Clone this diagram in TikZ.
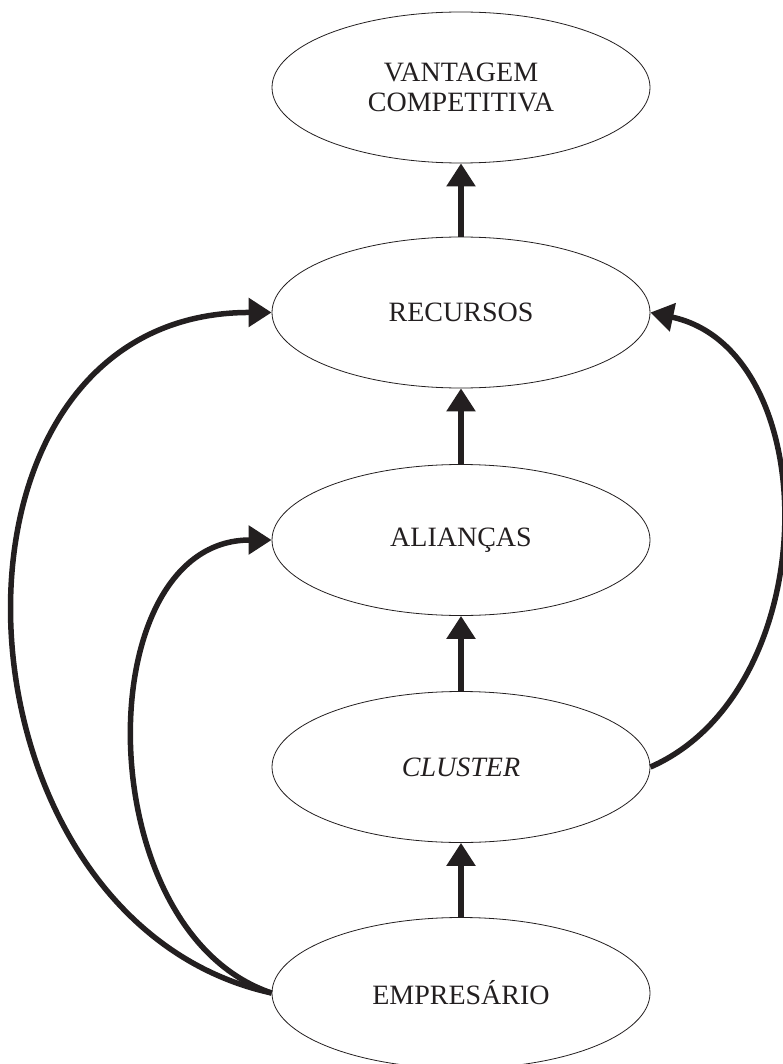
\documentclass[tikz,border=0pt]{standalone}
\usepackage{fontspec}
\setmainfont{Liberation Serif}
\usetikzlibrary{arrows.meta,shapes.geometric}
\definecolor{ink}{HTML}{231F20}
\tikzset{
  oval/.style={ellipse, draw=ink, line width=0.8pt, minimum width=378pt, minimum height=151pt,
    inner sep=0pt, align=center, text=ink, font=\fontsize{28}{30}\selectfont},
  link/.style={draw=ink, line width=5.5pt, -{Triangle[length=23pt,width=28pt]}, shorten >=0pt},
}
\begin{document}
\begin{tikzpicture}[x=1pt,y=-1pt]
\useasboundingbox (0,0) rectangle (782,1064);
\node[oval] (vant) at (461,87.5) {VANTAGEM\\COMPETITIVA};
\node[oval] (rec) at (461,312.5) {RECURSOS};
\node[oval] (ali) at (461,540) {ALIANÇAS};
\node[oval] (clu) at (461,767) {\itshape CLUSTER};
\node[oval] (emp) at (461,993) {EMPRESÁRIO};
\draw[link] (rec.north) -- (vant.south);
\draw[link] (ali.north) -- (rec.south);
\draw[link] (clu.north) -- (ali.south);
\draw[link] (emp.north) -- (clu.south);
\draw[link] (emp.west) .. controls (-60,920) and (-85,312) .. (rec.west);
\draw[link] (emp.west) .. controls (87,931) and (87,540) .. (ali.west);
\draw[link] (clu.east) .. controls (826,690) and (826,350) .. (rec.east);
\end{tikzpicture}
\end{document}
